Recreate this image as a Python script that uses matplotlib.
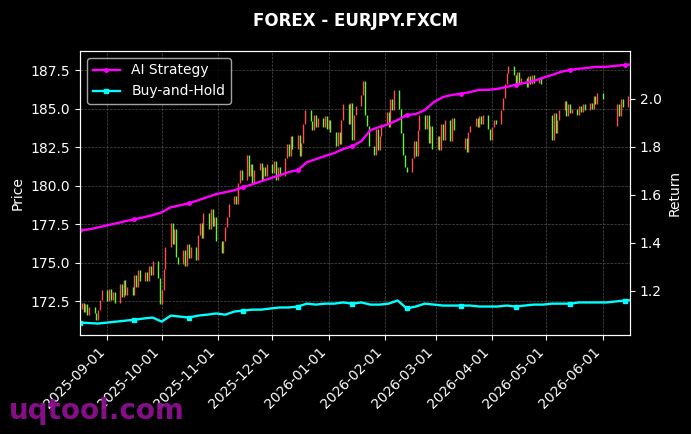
import numpy as np
import pandas as pd
import matplotlib
matplotlib.use("Agg")
import matplotlib.pyplot as plt
import matplotlib.dates as mdates

nan = np.nan

# daily closes, one row per week (Mon-Fri), NaN = no candle
closes = [
    172.4, 171.8, 172.3, 171.6, 172.1,
    171.7, 171.3, 171.9, 172.6, 173.2,
    172.5, 173.3, 172.6, 173.1, 172.4,
    173.6, 172.8, 173.9, 172.9, 173.4,
    172.9, 174.2, 173.4, 174.5, 173.8,
    174.4, 173.8, 174.8, 174.2, 175.1,
    174.0, 172.3, 173.2, 174.6, 176.0,
    177.6, 176.2, 177.2, 175.4, 174.9,
    175.8, 174.8, 176.2, 175.3, 176.0,
    175.2, 176.8, 177.6, 176.6, 178.2,
    177.2, 178.5, 177.4, 178.0, 176.4,
    175.6, 176.4, 177.3, 178.0, 178.8,
    179.3, 178.8, 180.2, 181.0, 180.4,
    182.0, 180.6, 181.4, 180.2, 181.0,
    181.5, 180.4, 181.2, 180.6, 181.4,
    180.8, 181.6, 180.4, 181.2, 180.6,
    181.8, 182.7, 181.9, 183.2, 182.4,
    183.3, 181.9, 182.8, 184.0, 184.9,
    184.2, 183.6, 184.6, 183.8, 184.4,
    183.8, 184.5, 183.7, 184.3, 183.5,
    182.6, 183.5, 182.7, 184.3, 185.3,
    184.0, 185.4, 183.0, 184.6, 185.2,
    185.9, 186.8, 184.6, 183.9, 182.6,
    182.0, 183.7, 182.3, 183.2, 184.0,
    184.8, 183.8, 185.6, 184.9, 186.2,
    185.0, 183.4, 182.0, 181.2, 180.9,
    181.8, 182.9, 181.9, 183.6, 184.6,
    183.7, 184.6, 182.8, 183.9, 182.4,
    183.2, 182.3, 184.0, 183.0, 184.3,
    182.9, 184.4, 183.6, nan, nan,
    182.4, 183.1, 182.2, 183.5, 183.9,
    184.4, 183.8, 184.5, 184.0, 184.6,
    183.7, 183.0, 183.8, 184.3, 184.0,
    184.9, 185.7, 186.6, 187.3, 187.8,
    187.2, 186.5, 187.4, 186.6, 187.0,
    186.4, 187.1, 186.6, 187.2, 186.7,
    187.0, 186.6, nan, nan, 184.6,
    183.0, 184.7, 183.4, 184.3, 184.9,
    185.5, 184.5, 185.3, 184.7, 185.0,
    184.6, 185.2, 184.8, 185.3, 184.9,
    185.4, 185.0, 185.8, 185.3, 186.0,
    185.6, nan, nan, nan, nan,
    183.9, 185.3, 184.5, 185.6, 185.1,
    185.8, 186.0,
]
first_open = 172.0

# cumulative return curves, one value every 5 days from 2025-08-17
ai_strategy = [
    1.452, 1.456, 1.464, 1.473, 1.481, 1.490, 1.498, 1.506, 1.515, 1.527,
    1.548, 1.556, 1.565, 1.577, 1.590, 1.603, 1.611, 1.619, 1.632, 1.644,
    1.657, 1.669, 1.682, 1.695, 1.703, 1.736, 1.749, 1.762, 1.774, 1.791,
    1.803, 1.824, 1.870, 1.883, 1.895, 1.912, 1.933, 1.937, 1.954, 1.987,
    2.008, 2.017, 2.021, 2.029, 2.038, 2.038, 2.042, 2.050, 2.059, 2.067,
    2.075, 2.088, 2.100, 2.113, 2.121, 2.126, 2.130, 2.134, 2.134, 2.138,
    2.142, 2.145,
]
buy_hold = [
    1.067, 1.065, 1.063, 1.067, 1.071, 1.075, 1.079, 1.084, 1.088, 1.071,
    1.096, 1.092, 1.088, 1.096, 1.100, 1.105, 1.100, 1.113, 1.117, 1.121,
    1.121, 1.126, 1.130, 1.130, 1.134, 1.146, 1.142, 1.146, 1.146, 1.151,
    1.146, 1.151, 1.142, 1.142, 1.146, 1.159, 1.126, 1.134, 1.146, 1.142,
    1.138, 1.138, 1.138, 1.138, 1.134, 1.134, 1.134, 1.138, 1.134, 1.138,
    1.142, 1.142, 1.146, 1.146, 1.146, 1.151, 1.151, 1.151, 1.151, 1.155,
    1.159, 1.161,
]

UP = "#ff4d4d"
DOWN = "#66f23c"

candle_dates = pd.bdate_range("2025-08-18", periods=len(closes))
curve_dates = pd.date_range("2025-08-17", periods=len(ai_strategy), freq="5D")

plt.style.use("dark_background")
fig = plt.figure(figsize=(6.91, 4.34), dpi=100)
ax = fig.add_axes([0.1158, 0.228, 0.7959, 0.6545])
ax2 = ax.twinx()

close = np.array(closes, dtype=float)
open_ = np.r_[first_open, close[:-1]]
valid = ~np.isnan(close) & ~np.isnan(open_)
up = valid & (close >= open_)
down = valid & (close < open_)
ax.vlines(candle_dates[up], open_[up], close[up], color=UP, linewidth=1.0)
ax.vlines(candle_dates[down], open_[down], close[down], color=DOWN, linewidth=1.0)

ax2.plot(curve_dates, ai_strategy, color="#ff00ff", linewidth=1.7,
         marker="o", markersize=2.5, markevery=6, label="AI Strategy")
ax2.plot(curve_dates, buy_hold, color="#00ffff", linewidth=1.7,
         marker="s", markersize=2.5, markevery=6, label="Buy-and-Hold")

ax.set_xlim(pd.Timestamp("2025-08-17"), pd.Timestamp("2026-06-16"))
ax.set_ylim(170.3, 188.75)
ax2.set_ylim(1.015, 2.20)
ax2.set_yticks([1.2, 1.4, 1.6, 1.8, 2.0])

ax.xaxis.set_major_locator(mdates.MonthLocator())
ax.xaxis.set_major_formatter(mdates.DateFormatter("%Y-%m-%d"))
plt.setp(ax.get_xticklabels(), rotation=45, ha="right")

ax.grid(True, linestyle="--", linewidth=0.5, color="gray", alpha=0.6)
ax.set_ylabel("Price")
ax2.set_ylabel("Return")
ax.set_title("FOREX - EURJPY.FXCM", fontsize=12, fontweight="bold", pad=18)
ax2.legend(loc="upper left", facecolor="black", edgecolor="0.8")

fig.text(0.013, 0.035, "uqtool.com", fontsize=20, fontweight="bold",
         color="#8e0f90", alpha=0.95)

fig.savefig("out.png", dpi=100, facecolor="black")
